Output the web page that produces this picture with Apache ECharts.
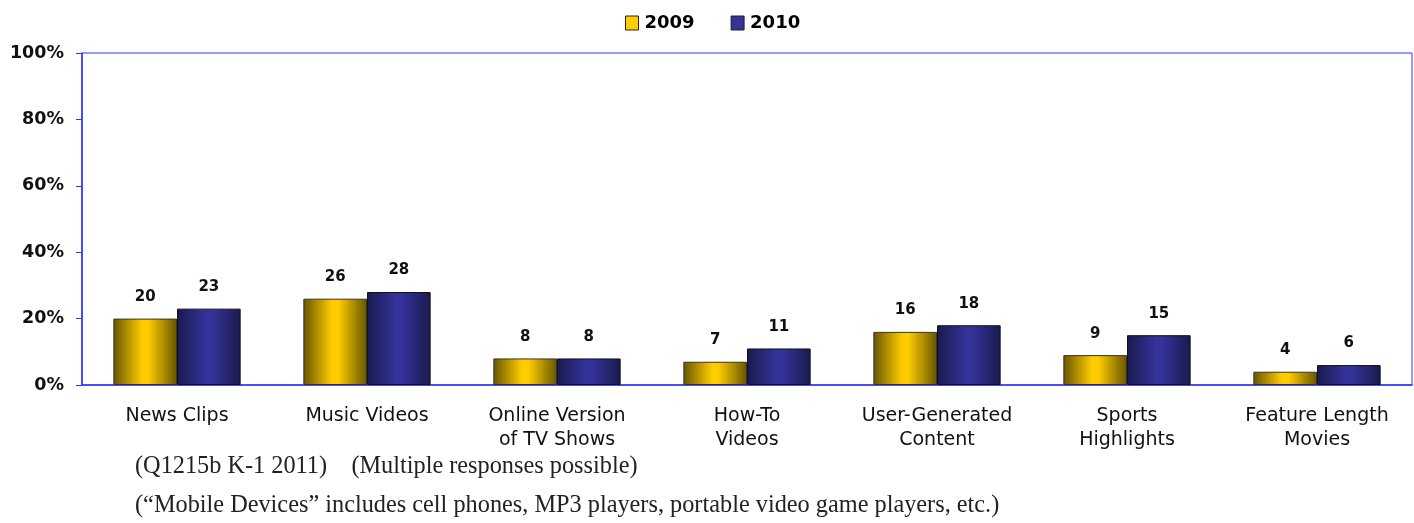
<!DOCTYPE html>
<html><head><meta charset="utf-8">
<script src="https://cdn.jsdelivr.net/npm/echarts@6/dist/echarts.min.js"></script>
<style>html,body{margin:0;padding:0;background:#fff}#c{width:1414px;height:523px}</style>
</head><body><div id="c"></div>
<script>
const categories = ['News Clips', 'Music Videos', 'Online Version\nof TV Shows', 'How-To\nVideos', 'User-Generated\nContent', 'Sports\nHighlights', 'Feature Length\nMovies'];
const values2009 = [20, 26, 8, 7, 16, 9, 4];
const values2010 = [23, 28, 8, 11, 18, 15, 6];
const yTicks = [0, 20, 40, 60, 80, 100];
const footnotes = ['(Q1215b K-1 2011)    (Multiple responses possible)', '(\u201CMobile Devices\u201D includes cell phones, MP3 players, portable video game players, etc.)'];

const gold = new echarts.graphic.LinearGradient(0, 0, 1, 0, [
  {offset: 0, color: '#665500'}, {offset: 0.45, color: '#ffcc00'}, {offset: 0.55, color: '#ffcc00'}, {offset: 1, color: '#665500'}]);
const blue = new echarts.graphic.LinearGradient(0, 0, 1, 0, [
  {offset: 0, color: '#1a1a4d'}, {offset: 0.45, color: '#333399'}, {offset: 0.55, color: '#333399'}, {offset: 1, color: '#1a1a4d'}]);

const chart = echarts.init(document.getElementById('c'));
const labelCfg = {show: true, position: 'top', distance: 14, fontFamily: 'DejaVu Sans', fontWeight: 'bold', fontSize: 15, color: '#111'};
chart.setOption({
  animation: false,
  legend: {top: 14, left: 625, padding: 0, itemWidth: 13, itemHeight: 14, itemGap: 36, icon: 'rect',
    textStyle: {fontFamily: 'DejaVu Sans', fontWeight: 'bold', fontSize: 18, color: '#000', padding: [0, 0, 0, 1]},
    data: [{name: '2009', itemStyle: {color: '#ffcc00', borderColor: '#222', borderWidth: 1}},
           {name: '2010', itemStyle: {color: '#333399', borderColor: '#222', borderWidth: 1}}]},
  grid: {left: 82, right: 2, top: 53, bottom: 138, show: true, borderColor: '#3333ff', borderWidth: 1},
  xAxis: {type: 'category', data: categories,
    axisLine: {lineStyle: {color: '#3333ff', width: 1.5}}, axisTick: {show: false},
    axisLabel: {fontFamily: 'DejaVu Sans', fontSize: 19, color: '#111', margin: 19, lineHeight: 24, interval: 0}},
  yAxis: {type: 'value', min: 0, max: 100, interval: 20,
    axisLine: {show: true, lineStyle: {color: '#3333ff', width: 1.5}},
    axisTick: {show: true, length: 6, lineStyle: {color: '#3333ff'}},
    splitLine: {show: false},
    axisLabel: {fontFamily: 'DejaVu Sans', fontWeight: 'bold', fontSize: 17.5, color: '#111', margin: 18,
      formatter: v => yTicks.includes(v) ? v + '%' : ''}},
  series: [
    {name: '2009', type: 'bar', data: values2009, barGap: '0%', barCategoryGap: '33%',
     itemStyle: {color: gold, borderColor: '#333', borderWidth: 1}, label: labelCfg},
    {name: '2010', type: 'bar', data: values2010,
     itemStyle: {color: blue, borderColor: '#111', borderWidth: 1}, label: labelCfg}
  ],
  graphic: [
    {type: 'text', left: 135, top: 455, style: {text: footnotes[0], fontFamily: 'Liberation Serif', fontSize: 24.3, fill: '#222'}},
    {type: 'text', left: 135, top: 494, style: {text: footnotes[1], fontFamily: 'Liberation Serif', fontSize: 24.3, fill: '#222'}}
  ]
});
</script></body></html>
